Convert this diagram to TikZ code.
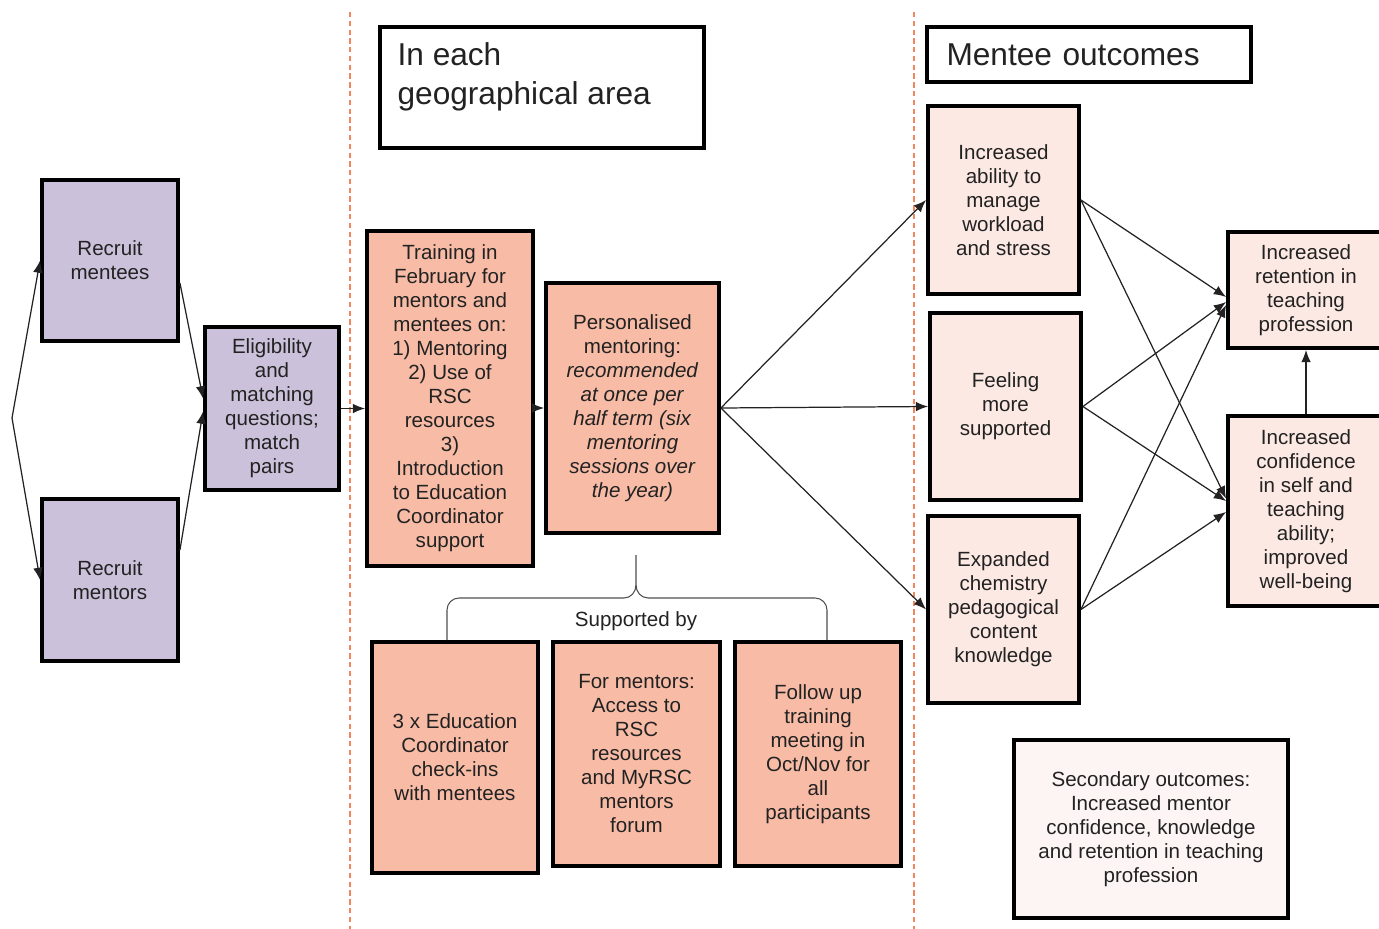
\documentclass[tikz,border=0pt]{standalone}
\usepackage{fontspec}
\setmainfont{Liberation Sans}
\usepackage{tikz}
\usetikzlibrary{arrows.meta}

\definecolor{lavender}{HTML}{CCC1DA}
\definecolor{salmon}{HTML}{F8BCA6}
\definecolor{blush}{HTML}{FCE9E3}
\definecolor{shell}{HTML}{FCF5F3}
\definecolor{divider}{HTML}{F2875F}
\definecolor{ink}{HTML}{222222}

\begin{document}
\begin{tikzpicture}[x=0.02cm, y=-0.02cm, font=\fontsize{11.7}{13.66}\selectfont,
    box/.style={draw=black, line width=2.2pt, align=center, text=ink, inner sep=2pt},
    recruit/.style={box, fill=lavender},
    activity/.style={box, fill=salmon},
    outcome/.style={box, fill=blush},
    heading/.style={draw=black, line width=2pt, fill=white, text=ink, font=\fontsize{18}{22}\selectfont, align=left},
    arr/.style={-{Latex[length=7pt,width=5.5pt]}, line width=0.7pt, draw=ink}]
        \useasboundingbox (0,0) rectangle (1379,929);

        % Líneas divisorias
        \draw [divider, line width=0.6pt, dash pattern=on 3pt off 2pt] (350,12) -- (350,929);
        \draw [divider, line width=0.6pt, dash pattern=on 3pt off 2pt] (914,12) -- (914,929);

        % Reclutamiento
        \coordinate (start) at (12,418);
        \node [recruit, minimum width=2.72cm, minimum height=3.22cm] (mentees) at (110,260.5) {Recruit\\mentees};
        \node [recruit, minimum width=2.72cm, minimum height=3.24cm] (mentors) at (110,580) {Recruit\\mentors};
        \node [recruit, minimum width=2.68cm, minimum height=3.26cm] (elig) at (272,408.5) {Eligibility\\and\\matching\\questions;\\match\\pairs};

        % Títulos
        \node [heading, minimum width=6.48cm, minimum height=2.42cm] (area) at (542,87.5) {};
        \node [anchor=north west, align=left, inner sep=0pt, text=ink, font=\fontsize{18}{22}\selectfont] (areatext) at ([xshift=0.38cm, yshift=-0.34cm]area.north west) {In each\\geographical area};
        \node [heading, minimum width=6.48cm, minimum height=1.1cm, text width=5.7cm, inner xsep=0.39cm] (menteeout) at (1089,54.5) {Mentee outcomes};

        % Actividades
        \node [activity, minimum width=3.32cm, minimum height=6.7cm] (train) at (450,398.5) {Training in\\February for\\mentors and\\mentees on:\\1) Mentoring\\2) Use of\\RSC\\resources\\3)\\Introduction\\to Education\\Coordinator\\support};
        \node [activity, minimum width=3.46cm, minimum height=5cm] (pers) at (632.5,408) {Personalised\\mentoring:\\\textit{recommended}\\\textit{at once per}\\\textit{half term (six}\\\textit{mentoring}\\\textit{sessions over}\\\textit{the year)}};

        % Apoyo
        \node [activity, minimum width=3.32cm, minimum height=4.62cm] (checkin) at (455,757.5) {3 x Education\\Coordinator\\check-ins\\with mentees};
        \node [activity, minimum width=3.34cm, minimum height=4.48cm] (forum) at (636.5,754) {For mentors:\\Access to\\RSC\\resources\\and MyRSC\\mentors\\forum};
        \node [activity, minimum width=3.32cm, minimum height=4.48cm] (followup) at (818,754) {Follow up\\training\\meeting in\\Oct/Nov for\\all\\participants};
        \node [text=ink] (supp) at (636,621) {Supported by};
        \draw [line width=0.6pt, draw=ink!80] (636,555) -- (636,585) to[out=-90,in=0] (624,598) -- (459,598) to[out=180,in=90] (447,610) -- (447,640);
        \draw [line width=0.6pt, draw=ink!80] (636,585) to[out=-90,in=180] (648,598) -- (815,598) to[out=0,in=90] (827,610) -- (827,640);

        % Resultados
        \node [outcome, minimum width=3.02cm, minimum height=3.76cm] (ability) at (1003.5,200) {Increased\\ability to\\manage\\workload\\and stress};
        \node [outcome, minimum width=3.02cm, minimum height=3.74cm] (feel) at (1005.5,406.5) {Feeling\\more\\supported};
        \node [outcome, minimum width=3.02cm, minimum height=3.74cm] (expand) at (1003.5,609.5) {Expanded\\chemistry\\pedagogical\\content\\knowledge};
        \node [outcome, minimum width=3.12cm, minimum height=2.32cm] (retain) at (1306,290) {Increased\\retention in\\teaching\\profession};
        \node [outcome, minimum width=3.12cm, minimum height=3.8cm] (confid) at (1306,511) {Increased\\confidence\\in self and\\teaching\\ability;\\improved\\well-being};
        \node [box, fill=shell, minimum width=5.48cm, minimum height=3.56cm] (second) at (1151,829) {Secondary outcomes:\\Increased mentor\\confidence, knowledge\\and retention in teaching\\profession};

        % Flechas
        \draw [arr] (start) -- (mentees.west);
        \draw [arr] (start) -- (mentors.west);
        \draw [arr] ([yshift=-0.45cm]mentees.east) -- ([yshift=0.2cm]elig.west);
        \draw [arr] ([yshift=0.6cm]mentors.east) -- ([yshift=-0.06cm]elig.west);
        \draw [arr] (elig.east) -- (elig.east -| train.west);
        \draw [arr] (pers.west -| train.east) -- (pers.west);
        \draw [arr] (pers.east) -- (ability.west);
        \draw [arr] (pers.east) -- (feel.west);
        \draw [arr] (pers.east) -- (expand.west);
        \draw [arr] (ability.east) -- ([yshift=-0.14cm]retain.west);
        \draw [arr] (ability.east) -- ([yshift=0.25cm]confid.west);
        \draw [arr] (feel.east) -- ([yshift=-0.24cm]retain.west);
        \draw [arr] (feel.east) -- ([yshift=0.2cm]confid.west);
        \draw [arr] (expand.east) -- ([yshift=-0.3cm]retain.west);
        \draw [arr] (expand.east) -- ([yshift=-0.02cm]confid.west);
        \draw [arr] (confid.north) -- (retain.south);
    \end{tikzpicture}
\end{document}
